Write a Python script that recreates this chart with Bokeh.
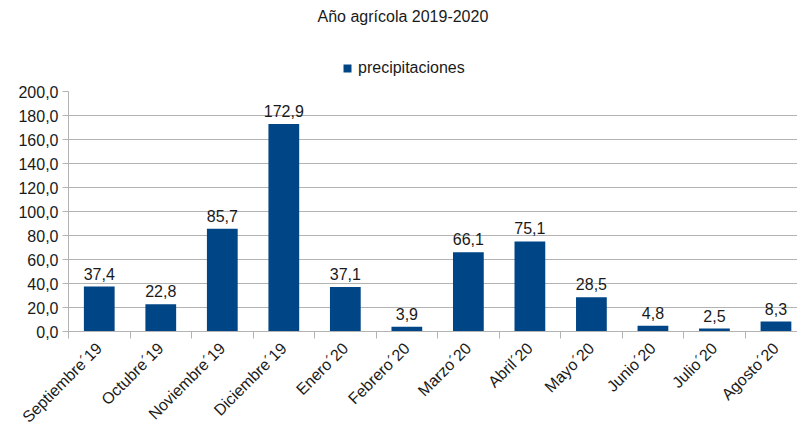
from bokeh.plotting import figure
from bokeh.layouts import column
from bokeh.models import Range1d, FixedTicker, Legend, LegendItem, ColumnDataSource
from bokeh.core.properties import value
from bokeh.embed import file_html
from bokeh.resources import INLINE

months = ["Septiembre´19", "Octubre´19", "Noviembre´19", "Diciembre´19", "Enero´20", "Febrero´20",
          "Marzo´20", "Abril´20", "Mayo´20", "Junio´20", "Julio´20", "Agosto´20"]
precip = [37.4, 22.8, 85.7, 172.9, 37.1, 3.9, 66.1, 75.1, 28.5, 4.8, 2.5, 8.3]
y_ticks = [0, 20, 40, 60, 80, 100, 120, 140, 160, 180, 200]
title_text = "Año agrícola 2019-2020"
series_name = "precipitaciones"

FONT = "Liberation Sans"
FS = "16px"
BLUE = "#004586"
GRID = "#b3b3b3"
TXT = "#1a1a1a"

xs = [i + 0.5 for i in range(len(months))]
labels = [f"{v:.1f}".replace(".", ",") for v in precip]
src = ColumnDataSource(dict(x=xs, top=precip, lab=labels))

# ---- header: title + legend ----
head = figure(width=797, height=80, output_backend="svg", toolbar_location=None,
              x_range=Range1d(0, 1), y_range=Range1d(0, 1),
              min_border_left=0, min_border_right=0, min_border_bottom=0, min_border_top=16,
              title=title_text, x_axis_location=None, y_axis_location=None)
head.title.align = "left"
head.title.offset = 249
head.title.standoff = 10
head.title.text_font = FONT
head.title.text_font_size = FS
head.title.text_font_style = "normal"
head.title.text_color = TXT
head.outline_line_color = None
head.grid.visible = False
hr = head.vbar(x="x", top="top", width=0.5, source=src, fill_color=BLUE, line_color=None,
               visible=False)
legend = Legend(items=[LegendItem(label=series_name, renderers=[hr])],
                location=(274, 2), orientation="horizontal",
                label_text_font=FONT, label_text_font_size=FS, label_text_color=TXT,
                glyph_width=10, glyph_height=10, label_height=20, border_line_color=None,
                background_fill_alpha=0, inactive_fill_alpha=0,
                padding=0, margin=0, label_standoff=6)
head.add_layout(legend, "center")

# ---- main chart ----
p = figure(width=797, height=354, output_backend="svg", toolbar_location=None,
           x_range=Range1d(0, 11.85), y_range=Range1d(0, 200),
           min_border_left=68, min_border_right=0, min_border_bottom=103, min_border_top=11)
p.outline_line_color = None
p.background_fill_color = "white"

p.vbar(x="x", top="top", width=0.5, source=src, fill_color=BLUE, line_color=None)
p.text(x="x", y="top", text="lab", source=src, text_align="center", text_baseline="bottom",
       y_offset=-7, text_font=value(FONT), text_font_size=FS, text_color=TXT)

yaxis = p.yaxis[0]
yaxis.ticker = FixedTicker(ticks=y_ticks)
yaxis.major_label_overrides = {t: f"{t:.1f}".replace(".", ",") for t in y_ticks}
yaxis.axis_line_color = GRID
yaxis.major_tick_line_color = GRID
yaxis.major_tick_in = 0
yaxis.major_tick_out = 6
yaxis.minor_tick_line_color = None
yaxis.major_label_text_font = FONT
yaxis.major_label_text_font_size = FS
yaxis.major_label_text_color = TXT
yaxis.major_label_standoff = 4

xaxis = p.xaxis[0]
xaxis.ticker = FixedTicker(ticks=xs, minor_ticks=list(range(13)))
xaxis.major_label_overrides = {x: m for x, m in zip(xs, months)}
xaxis.axis_line_color = GRID
xaxis.major_tick_line_color = None
xaxis.minor_tick_line_color = GRID
xaxis.minor_tick_in = 0
xaxis.minor_tick_out = 7
xaxis.major_label_orientation = 0.785398
xaxis.major_label_text_font = FONT
xaxis.major_label_text_font_size = FS
xaxis.major_label_text_color = TXT
xaxis.major_label_standoff = 7

p.xgrid.grid_line_color = None
p.ygrid.ticker = FixedTicker(ticks=y_ticks)
p.ygrid.grid_line_color = GRID

layout = column(head, p, spacing=0)
open("out.html", "w").write(file_html(layout, INLINE))
